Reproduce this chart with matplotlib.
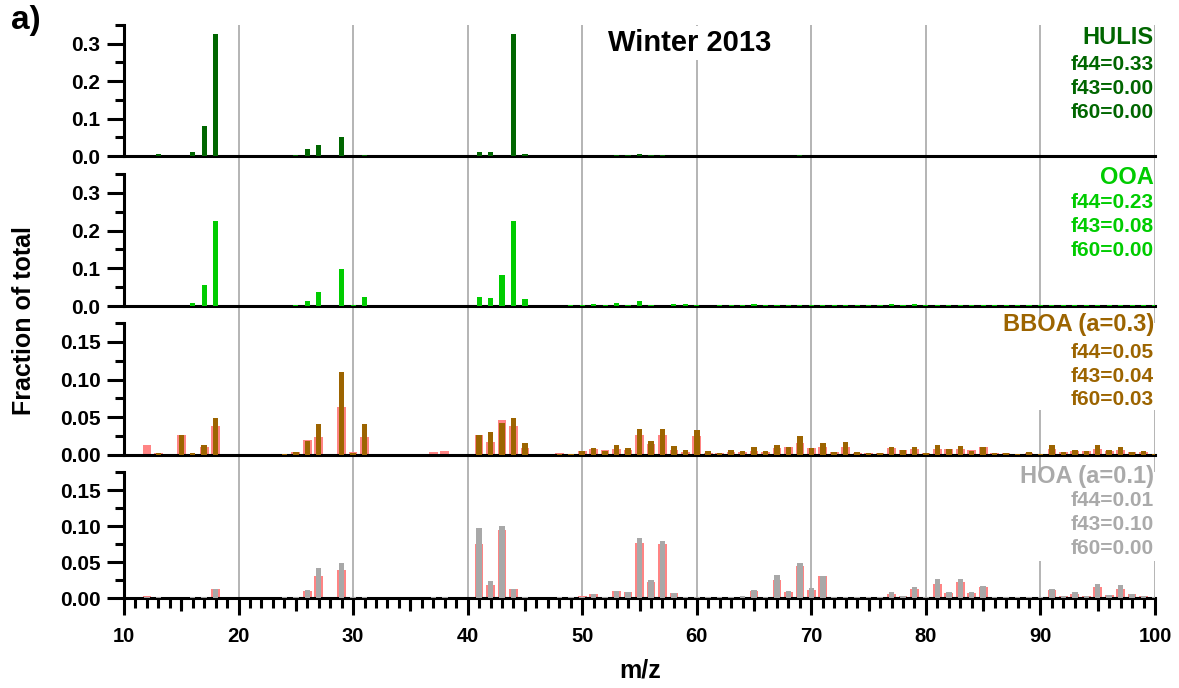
import numpy as np
import matplotlib
matplotlib.use('Agg')
import matplotlib.pyplot as plt
from matplotlib.patches import Rectangle
from matplotlib.ticker import MultipleLocator, FormatStrFormatter

plt.rcParams['font.family'] = ['Liberation Sans', 'DejaVu Sans']
plt.rcParams['font.weight'] = 'bold'

# m/z 12 .. 100
mz = np.arange(12, 101)

hulis = [0, .006, 0, .001, .012, .081, .327, 0, 0, 0,
         0, 0, .001, .002, .020, .029, 0, .052, .001, .002,
         0, 0, 0, 0, 0, 0, 0, 0, 0, .010,
         .011, .001, .327, .006, 0, 0, .001, .001, .001, .001,
         .001, .002, .002, .006, .002, .002, .001, .001, .001, .001,
         .001, .001, .001, .001, .001, .001, .001, .002, .001, .001,
         .001, .001, .001, .001, .001, .001, .001, .001, .001, .001,
         .001, .001, .001, .001, .001, .001, .001, .001, .001, .001,
         .001, .001, .001, .001, .001, .001, .001, .001, .001]

ooa = [0, .001, 0, .001, .009, .057, .225, 0, 0, 0,
       0, 0, .001, .002, .013, .037, 0, .098, .002, .023,
       0, 0, 0, 0, 0, 0, 0, 0, 0, .023,
       .021, .081, .225, .019, 0, 0, .001, .002, .003, .004,
       .002, .007, .003, .013, .002, .001, .006, .004, .003, .001,
       .002, .002, .002, .004, .002, .003, .003, .002, .002, .002,
       .002, .002, .002, .002, .002, .004, .002, .004, .002, .002,
       .002, .002, .002, .002, .002, .002, .002, .002, .002, .003,
       .002, .002, .002, .002, .002, .002, .002, .002, .002]

bboa = [0, .003, 0, .026, .002, .013, .049, 0, 0, 0,
        0, 0, .001, .004, .019, .041, 0, .110, .003, .041,
        0, 0, 0, 0, 0, 0, 0, 0, 0, .026,
        .030, .042, .049, .016, 0, 0, .001, .001, .005, .009,
        .005, .013, .009, .035, .019, .035, .012, .006, .033, .005,
        .002, .006, .005, .010, .005, .013, .010, .025, .009, .016,
        .004, .017, .004, .003, .003, .011, .006, .010, .003, .013,
        .008, .012, .005, .010, .002, .003, .001, .004, .001, .013,
        .004, .006, .005, .013, .006, .011, .004, .005, .001]

bboa_ref = [.013, .003, 0, .027, .001, .010, .039, 0, 0, 0,
            0, 0, .001, .004, .020, .024, 0, .063, .004, .024,
            0, 0, 0, 0, 0, .004, .005, 0, 0, .027,
            .017, .046, .039, .009, 0, 0, .002, .001, .005, .008,
            .006, .008, .007, .026, .015, .027, .006, .004, .025, .003,
            .002, .004, .004, .005, .004, .009, .010, .016, .009, .011,
            .004, .011, .003, .003, .003, .009, .006, .008, .003, .008,
            .008, .008, .006, .010, .002, .003, .001, .003, .001, .008,
            .004, .005, .005, .008, .005, .007, .004, .004, .001]

hoa = [.001, .001, 0, 0, .001, .001, .013, 0, 0, 0,
       0, 0, .001, .001, .011, .041, 0, .049, .001, .002,
       0, 0, 0, 0, 0, .002, .002, 0, 0, .097,
       .024, .100, .013, .002, 0, 0, .001, .001, .002, .006,
       .002, .010, .008, .084, .025, .079, .007, .002, .001, .001,
       .001, .002, .003, .011, .002, .032, .010, .048, .014, .031,
       .002, .001, .001, .001, .001, .009, .003, .015, .002, .026,
       .008, .027, .008, .016, .002, .001, .001, .001, .001, .013,
       .003, .009, .003, .020, .004, .018, .005, .003, .001]

hoa_ref = [.003, .001, 0, .001, .001, .001, .012, 0, 0, 0,
           0, 0, .001, .002, .010, .031, 0, .039, .001, .002,
           0, 0, 0, 0, 0, .002, .002, 0, 0, .075,
           .018, .094, .013, .002, 0, 0, .001, .001, .003, .006,
           .002, .010, .008, .076, .022, .075, .007, .002, .001, .001,
           .001, .002, .002, .010, .002, .025, .008, .045, .011, .031,
           .002, .001, .001, .001, .001, .006, .003, .012, .002, .020,
           .007, .022, .007, .015, .002, .001, .001, .001, .001, .011,
           .003, .006, .003, .015, .004, .013, .005, .003, .001]

names = ['HULIS', 'OOA', 'BBOA (a=0.3)', 'HOA (a=0.1)']
f_labels = [['f44=0.33', 'f43=0.00', 'f60=0.00'],
            ['f44=0.23', 'f43=0.08', 'f60=0.00'],
            ['f44=0.05', 'f43=0.04', 'f60=0.03'],
            ['f44=0.01', 'f43=0.10', 'f60=0.00']]

W, H = 1179, 688
fig = plt.figure(figsize=(W / 100, H / 100), dpi=100)
L_PX, R_PX = 124, 1155
REF_COLOR = '#ff8484'
GRID = '#a8a8a8'


def rect(top, bottom):
    return [L_PX / W, 1 - bottom / H, (R_PX - L_PX) / W, (bottom - top) / H]


panels = [
    dict(vals=hulis, ref=None, color='#006600', tcolor='#006600', box=(25, 156), ymax=0.35,
         major=0.1, fmt='%.1f', lines=[38, 65, 89, 113], cover=None),
    dict(vals=ooa, ref=None, color='#00cc00', tcolor='#00cc00', box=(174, 306), ymax=0.35,
         major=0.1, fmt='%.1f', lines=[177, 203, 227, 251], cover=None),
    dict(vals=bboa, ref=bboa_ref, color='#9c6400', tcolor='#9c6400', box=(323, 455), ymax=0.175,
         major=0.05, fmt='%.2f', lines=[325, 353, 377, 400], cover=(86.0, 410)),
    dict(vals=hoa, ref=hoa_ref, color='#a8a8a8', tcolor='#aaaaaa', box=(472, 598), ymax=0.175,
         major=0.05, fmt='%.2f', lines=[476, 501, 525, 549], cover=(87.5, 561)),
]

# background axes carrying the vertical grid lines through all panels
bg = fig.add_axes(rect(25, 598))
bg.set_xlim(10, 100)
bg.set_ylim(0, 1)
bg.axis('off')
bg.set_zorder(0)
for x in range(20, 101, 10):
    bg.axvline(x, color=GRID, lw=1.2)

axes = []
for i, p in enumerate(panels):
    top, bot = p['box']
    ax = fig.add_axes(rect(top, bot))
    ax.set_zorder(1 + i)
    ax.set_facecolor('none')
    if p['ref'] is not None:
        ax.bar(mz, p['ref'], width=0.76, color=REF_COLOR, zorder=2)
        ax.bar(mz, p['vals'], width=0.48, color=p['color'], zorder=3)
    else:
        ax.bar(mz, p['vals'], width=0.45, color=p['color'], zorder=3)
    ax.set_xlim(10, 100)
    ax.set_ylim(0, p['ymax'])
    for s in ['top', 'right']:
        ax.spines[s].set_visible(False)
    for s in ['left', 'bottom']:
        ax.spines[s].set_linewidth(2.2)
    ax.yaxis.set_major_locator(MultipleLocator(p['major']))
    ax.yaxis.set_minor_locator(MultipleLocator(p['major'] / 2))
    ax.yaxis.set_major_formatter(FormatStrFormatter(p['fmt']))
    ax.tick_params(axis='y', which='major', direction='out', length=12, width=2.2,
                   labelsize=15, pad=5)
    ax.tick_params(axis='y', which='minor', direction='out', length=6.5, width=2.2)
    ax.tick_params(axis='x', which='both', bottom=False, labelbottom=False)

    h = bot - top
    if p['cover'] is not None:
        x0, ypx = p['cover']
        y0 = (bot - ypx) / h * p['ymax']
        ax.add_patch(Rectangle((x0, y0), 100 - x0, p['ymax'] - y0, facecolor='white',
                               edgecolor='none', zorder=4))
    yc = [(bot - y) / h for y in p['lines']]
    ax.text(0.999, yc[0], names[i], transform=ax.transAxes, ha='right', va='center',
            fontsize=17, color=p['tcolor'], zorder=5)
    for j, lab in enumerate(f_labels[i]):
        ax.text(0.999, yc[j + 1], lab, transform=ax.transAxes, ha='right', va='center',
                fontsize=15, color=p['tcolor'], zorder=5)
    axes.append(ax)

# bottom x axis with three tick levels
ax = axes[-1]
ax.xaxis.set_major_locator(MultipleLocator(10))
ax.xaxis.set_minor_locator(MultipleLocator(1))
ax.tick_params(axis='x', which='major', bottom=True, labelbottom=True, direction='out',
               length=12.2, width=2.2, labelsize=14.5, pad=9)
ax.tick_params(axis='x', which='minor', bottom=True, direction='out', length=7, width=2.2)
sec = ax.secondary_xaxis('bottom')
sec.spines['bottom'].set_visible(False)
sec.set_xticks(np.arange(15, 100, 10))
sec.tick_params(axis='x', direction='out', length=9.4, width=2.2, labelbottom=False)

fig.text(690 / W, 1 - 43 / H, 'Winter 2013', ha='center', va='center', fontsize=21,
         bbox=dict(facecolor='white', edgecolor='none', pad=2))
fig.text(11 / W, 1 - 21 / H, 'a)', ha='left', va='center', fontsize=24)
fig.text(24 / W, 1 - 321 / H, 'Fraction of total', rotation=90, ha='center', va='center',
         fontsize=18)
fig.text(640 / W, 1 - 671 / H, 'm/z', ha='center', va='center', fontsize=18)

fig.savefig('out.png', dpi=100)
